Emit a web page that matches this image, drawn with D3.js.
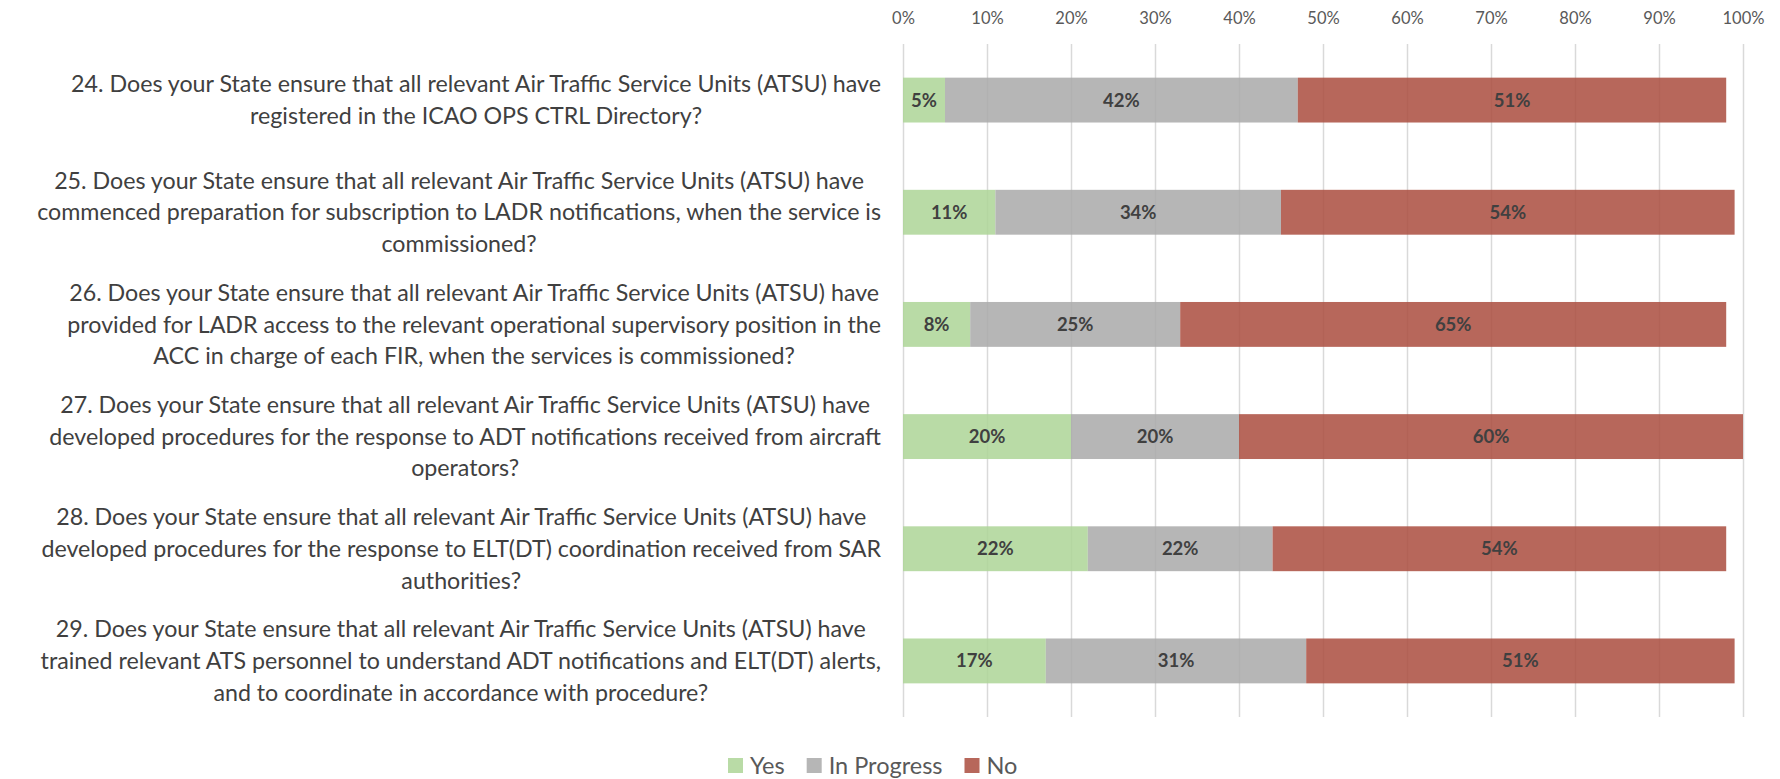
<!DOCTYPE html>
<html>
<head>
<meta charset="utf-8">
<script src="https://cdn.jsdelivr.net/npm/d3@7"></script>
<style>
  body { margin: 0; background: #fff; }
  svg { display: block; font-family: Lato, "Open Sans", sans-serif; }
</style>
</head>
<body>
<svg></svg>
<script>
const questions = [
  ["24. Does your State ensure that all relevant Air Traffic Service Units (ATSU) have", "registered in the ICAO OPS CTRL Directory?"],
  ["25. Does your State ensure that all relevant Air Traffic Service Units (ATSU) have", "commenced preparation for subscription to LADR notifications, when the service is", "commissioned?"],
  ["26. Does your State ensure that all relevant Air Traffic Service Units (ATSU) have", "provided for LADR access to the relevant operational supervisory position in the", "ACC in charge of each FIR, when the services is commissioned?"],
  ["27. Does your State ensure that all relevant Air Traffic Service Units (ATSU) have", "developed procedures for the response to ADT notifications received from aircraft", "operators?"],
  ["28. Does your State ensure that all relevant Air Traffic Service Units (ATSU) have", "developed procedures for the response to ELT(DT) coordination received from SAR", "authorities?"],
  ["29. Does your State ensure that all relevant Air Traffic Service Units (ATSU) have", "trained relevant ATS personnel to understand ADT notifications and ELT(DT) alerts,", "and to coordinate in accordance with procedure?"]
];
const seriesNames = ["Yes", "In Progress", "No"];
const yes = [5, 11, 8, 20, 22, 17];
const inProgress = [42, 34, 25, 20, 22, 31];
const no = [51, 54, 65, 60, 54, 51];
const tickValues = [0, 10, 20, 30, 40, 50, 60, 70, 80, 90, 100];

const W = 1780, H = 779;
const colors = ["#add596", "#a9a9a9", "#aa4c3e"];

const svg = d3.select('svg').attr('width', W).attr('height', H);

const rows = questions.map((q, i) => ({
  id: i, lines: q, Yes: yes[i], "In Progress": inProgress[i], No: no[i]
}));

const xScale = d3.scaleLinear().domain([0, 100]).range([903, 1743]);
const yScale = d3.scaleBand()
  .domain(rows.map(d => d.id))
  .range([44, 717])
  .paddingInner(0.6)
  .paddingOuter(0.3);

// gridlines + top tick labels
const xAxis = d3.axisTop(xScale)
  .tickValues(tickValues)
  .tickFormat(d => d + '%')
  .tickSize(-(717 - 44))
  .tickPadding(20);

const gx = svg.append('g')
  .attr('transform', `translate(0,44)`)
  .call(xAxis);
gx.select('.domain').remove();
gx.selectAll('.tick line').attr('stroke', '#d9d9d9').attr('stroke-width', 1.5);
gx.selectAll('.tick text')
  .attr('fill', '#595959')
  .attr('font-size', 16.5)
  .attr('font-family', 'Lato, sans-serif');

// stacked bars
const stacked = d3.stack().keys(seriesNames)(rows);

const layers = svg.append('g').selectAll('g')
  .data(stacked).enter().append('g')
    .attr('fill', (d, i) => colors[i])
    .attr('fill-opacity', 0.85);

layers.selectAll('rect')
  .data(d => d).enter().append('rect')
    .attr('x', d => xScale(d[0]))
    .attr('y', d => yScale(d.data.id))
    .attr('width', d => xScale(d[1]) - xScale(d[0]))
    .attr('height', yScale.bandwidth());

const labelG = svg.append('g');
stacked.forEach(layer => {
  labelG.selectAll(null)
    .data(layer).enter().append('text')
      .attr('x', d => (xScale(d[0]) + xScale(d[1])) / 2)
      .attr('y', d => yScale(d.data.id) + yScale.bandwidth() / 2)
      .attr('dy', '0.35em')
      .attr('text-anchor', 'middle')
      .attr('font-size', 18.5)
      .attr('font-weight', 'bold')
      .attr('fill', '#404040')
      .text(d => (d[1] - d[0]) + '%');
});

// category labels: block right-aligned to the plot, lines centered within block
const lineGap = 31.7;
const rightEdge = 881;
const qG = svg.append('g').attr('fill', '#404040');

// fit font size so first line matches the reference width
const probe = qG.append('text').attr('font-size', 20).text(questions[0][0]);
const fs = 20 * 810 / probe.node().getComputedTextLength();
probe.remove();

rows.forEach(r => {
  const cy = yScale(r.id) + yScale.bandwidth() / 2;
  const t = qG.append('g');
  const texts = t.selectAll('text').data(r.lines).enter().append('text')
    .attr('font-size', fs)
    .attr('text-anchor', 'middle')
    .attr('dy', '0.35em')
    .attr('y', (d, k) => cy + (k - (r.lines.length - 1) / 2) * lineGap)
    .text(d => d);
  const maxW = d3.max(texts.nodes(), n => n.getComputedTextLength());
  texts.attr('x', rightEdge - maxW / 2);
});

// legend
const legend = svg.append('g');
let lx = 728;
seriesNames.forEach((name, i) => {
  legend.append('rect')
    .attr('x', lx).attr('y', 758)
    .attr('width', 15).attr('height', 15)
    .attr('fill', colors[i]).attr('fill-opacity', 0.85);
  const t = legend.append('text')
    .attr('x', lx + 22).attr('y', 765.5)
    .attr('dy', '0.35em')
    .attr('font-size', 23.5)
    .attr('fill', '#595959')
    .text(name);
  lx += 22 + t.node().getComputedTextLength() + 22;
});
</script>
</body>
</html>
